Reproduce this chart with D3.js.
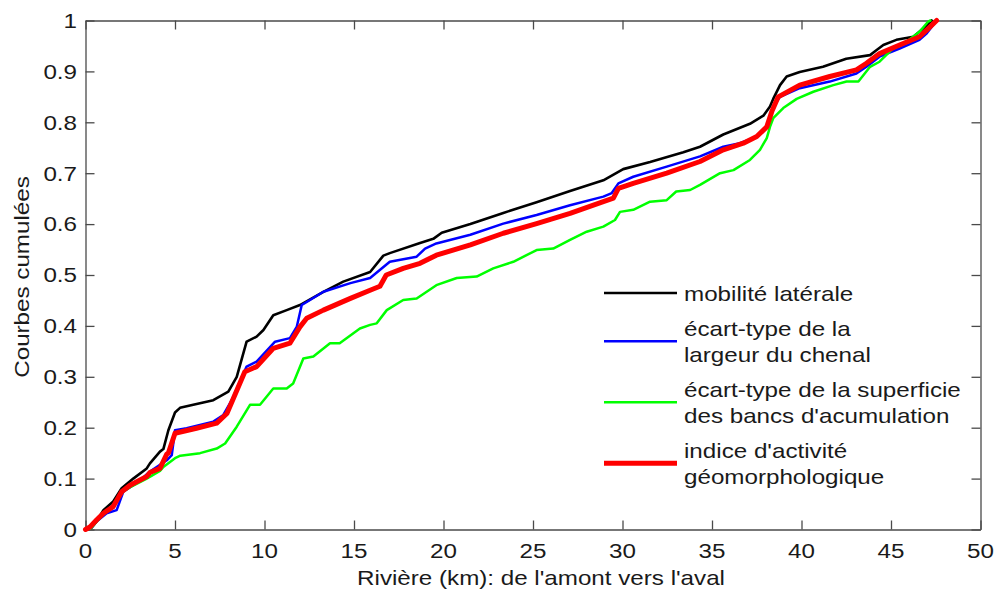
<!DOCTYPE html>
<html>
<head>
<meta charset="utf-8">
<script src="https://cdn.jsdelivr.net/npm/d3@7"></script>
<style>
  html, body { margin: 0; padding: 0; background: #fff; }
  svg { display: block; }
  text { font-family: "Liberation Sans", Arial, Helvetica, sans-serif; fill: #1a1a1a; }
</style>
</head>
<body>
<svg id="chart" width="994" height="590"></svg>
<script>
// Cumulative curves along the river (km from upstream to downstream)
const mobiliteKm  = [0,0.3,0.6,1.0,1.55,2.02,2.67,3.42,3.6,4.16,4.35,4.63,5.0,5.28,6.02,7.14,7.98,8.45,9.0,9.56,9.94,10.49,11.24,11.98,13.29,14.4,15.9,16.64,17.0,18.69,19.43,19.9,21.5,23.34,25.2,27.07,28.93,30.04,31.54,33.4,34.33,35.63,37.12,37.87,38.24,38.42,38.8,39.17,39.9,41.2,42.5,43.83,44.2,44.57,45.3,46.25,47.0,47.27];
const mobiliteVal = [0,0.002,0.015,0.038,0.055,0.081,0.10,0.12,0.13,0.153,0.158,0.195,0.23,0.239,0.245,0.254,0.271,0.30,0.369,0.379,0.392,0.421,0.431,0.441,0.467,0.487,0.506,0.538,0.543,0.563,0.571,0.583,0.600,0.622,0.643,0.665,0.686,0.708,0.722,0.741,0.752,0.776,0.797,0.813,0.831,0.846,0.873,0.89,0.899,0.909,0.925,0.932,0.942,0.952,0.962,0.968,0.99,1.0];

const largeurKm  = [0,0.3,0.6,1.18,1.74,2.11,3.0,3.6,4.54,4.82,5.0,5.65,7.14,7.7,8.17,9.0,9.56,10.59,11.42,11.8,12.08,12.36,13.29,14.8,15.9,17.0,18.5,18.97,19.6,21.5,23.34,25.2,27.07,28.93,29.4,29.77,30.6,32.47,34.33,35.63,36.56,37.5,38.06,38.42,38.8,39.9,41.58,43.07,43.63,44.36,45.48,46.59,47.0,47.55];
const largeurVal = [0,0.002,0.015,0.032,0.038,0.074,0.095,0.114,0.136,0.146,0.195,0.199,0.212,0.225,0.254,0.32,0.33,0.369,0.376,0.398,0.441,0.447,0.467,0.484,0.494,0.526,0.536,0.552,0.562,0.579,0.601,0.618,0.637,0.654,0.661,0.68,0.693,0.713,0.733,0.752,0.759,0.772,0.791,0.831,0.85,0.867,0.88,0.896,0.909,0.929,0.945,0.962,0.975,1.0];

const bancsKm  = [0,0.3,0.6,1.0,1.55,2.11,2.5,3.42,4.16,4.35,5.0,5.3,6.4,7.33,7.8,8.45,9.19,9.75,10.49,11.24,11.6,12.17,12.73,13.66,14.2,15.33,15.9,16.27,16.83,17.75,18.5,19.6,20.74,21.85,22.78,23.9,25.2,26.13,27.07,28.0,28.93,29.58,29.86,30.6,31.54,32.47,33.0,33.78,34.33,35.45,36.2,37.12,37.68,38.06,38.24,38.42,38.98,39.73,40.66,41.78,42.52,43.18,43.83,44.36,45.1,45.85,46.59,47.08,47.2];
const bancsVal = [0,0.002,0.015,0.03,0.045,0.075,0.083,0.10,0.115,0.123,0.14,0.145,0.15,0.159,0.169,0.202,0.245,0.245,0.277,0.277,0.287,0.336,0.34,0.366,0.366,0.395,0.402,0.405,0.431,0.451,0.454,0.48,0.494,0.497,0.513,0.526,0.549,0.552,0.569,0.585,0.595,0.608,0.624,0.628,0.644,0.647,0.664,0.667,0.677,0.70,0.706,0.726,0.746,0.769,0.791,0.808,0.828,0.846,0.86,0.873,0.88,0.88,0.909,0.919,0.945,0.958,0.978,0.998,1.0];

const indiceKm  = [0,0.25,0.63,1.0,1.55,2.02,2.49,3.42,3.6,4.16,4.54,4.63,5.0,6.2,7.33,7.9,8.9,9.56,10.49,11.42,11.98,12.36,13.29,14.8,15.9,16.45,16.8,17.75,18.69,19.6,21.5,23.34,25.2,27.07,28.93,29.49,29.77,30.6,32.47,34.33,35.63,36.75,37.5,38.06,38.34,38.7,39.9,41.58,43.07,43.63,44.36,45.48,46.59,47.08,47.55];
const indiceVal = [0,0.005,0.019,0.032,0.045,0.074,0.087,0.104,0.112,0.12,0.148,0.15,0.189,0.199,0.209,0.228,0.31,0.32,0.356,0.366,0.398,0.415,0.431,0.454,0.47,0.478,0.50,0.513,0.523,0.539,0.559,0.582,0.601,0.621,0.644,0.651,0.67,0.68,0.70,0.723,0.746,0.759,0.772,0.791,0.821,0.85,0.873,0.89,0.903,0.916,0.935,0.952,0.968,0.984,1.0];

const xTicks = [0,5,10,15,20,25,30,35,40,45,50];
const yTicks = [0,0.1,0.2,0.3,0.4,0.5,0.6,0.7,0.8,0.9,1];

const seriesNames  = ["mobilité latérale", "écart-type de la\nlargeur du chenal", "écart-type de la superficie\ndes bancs d'acumulation", "indice d'activité\ngéomorphologique"];
const seriesColors = ["#000000", "#0000ff", "#00ff00", "#ff0000"];
const seriesWidths = [2.6, 2.5, 2.5, 5];

const xTitle = "Rivière (km): de l'amont vers l'aval";
const yTitle = "Courbes cumulées";

// Build series table from the arrays above
const series = [
  { name: seriesNames[0], km: mobiliteKm, val: mobiliteVal },
  { name: seriesNames[1], km: largeurKm,  val: largeurVal },
  { name: seriesNames[2], km: bancsKm,    val: bancsVal },
  { name: seriesNames[3], km: indiceKm,   val: indiceVal }
].map((s, i) => ({ ...s, color: seriesColors[i], width: seriesWidths[i],
                   points: s.km.map((k, j) => [k, s.val[j]]) }));

const svg = d3.select("#chart");
const FS = 20.5;        // font size
const SX = 1.18;        // horizontal glyph stretch
const plotL = 85.5, plotR = 980.5, plotT = 20.5, plotB = 529.5;

const x = d3.scaleLinear().domain([0, 50]).range([plotL, plotR]);
const y = d3.scaleLinear().domain([0, 1]).range([plotB, plotT]);

// Axes: ticks point inward on all four sides
const axisStyle = g => {
  g.selectAll("path.domain").attr("stroke", "#4a4a4a").attr("stroke-width", 1.3);
  g.selectAll(".tick line").attr("stroke", "#4a4a4a").attr("stroke-width", 1.3);
  g.selectAll(".tick text").remove();
};
svg.append("g").attr("transform", `translate(0,${plotB})`)
  .call(d3.axisBottom(x).tickValues(xTicks).tickSizeInner(-9).tickSizeOuter(0)).call(axisStyle);
svg.append("g").attr("transform", `translate(0,${plotT})`)
  .call(d3.axisTop(x).tickValues(xTicks).tickSizeInner(-9).tickSizeOuter(0)).call(axisStyle);
svg.append("g").attr("transform", `translate(${plotL},0)`)
  .call(d3.axisLeft(y).tickValues(yTicks).tickSizeInner(-9).tickSizeOuter(0)).call(axisStyle);
svg.append("g").attr("transform", `translate(${plotR},0)`)
  .call(d3.axisRight(y).tickValues(yTicks).tickSizeInner(-9).tickSizeOuter(0)).call(axisStyle);

// Tick labels
const fmtY = d => (d === 0 ? "0" : d === 1 ? "1" : d.toFixed(1));
svg.append("g").selectAll("text").data(xTicks).join("text")
  .attr("transform", d => `translate(${x(d)},${plotB + 28.5}) scale(${SX},1)`)
  .attr("text-anchor", "middle").attr("font-size", FS).text(d => d);
svg.append("g").selectAll("text").data(yTicks).join("text")
  .attr("transform", d => `translate(${plotL - 8.5},${y(d) + 7.3}) scale(${SX},1)`)
  .attr("text-anchor", "end").attr("font-size", FS).text(fmtY);

// Axis titles
svg.append("text")
  .attr("transform", `translate(541,585) scale(${SX},1)`)
  .attr("text-anchor", "middle").attr("font-size", FS).text(xTitle);
svg.append("text")
  .attr("transform", `translate(28.5,277) rotate(-90) scale(${SX},1)`)
  .attr("text-anchor", "middle").attr("font-size", FS).text(yTitle);

// Curves
const line = d3.line().x(d => x(d[0])).y(d => y(d[1]));
svg.append("g").selectAll("path").data(series).join("path")
  .attr("d", d => line(d.points))
  .attr("fill", "none")
  .attr("stroke", d => d.color)
  .attr("stroke-width", d => d.width)
  .attr("stroke-linejoin", "round")
  .attr("stroke-linecap", "round");

// Legend
const lgX0 = 604, lgX1 = 677, lgTextX = 684, rowH = 25.5, gap = 10;
let ly = 293;
const legend = svg.append("g");
series.forEach((s, i) => {
  const lines = s.name.split("\n");
  if (i > 0) {
    const prevN = series[i - 1].name.split("\n").length;
    ly += (prevN * rowH + lines.length * rowH) / 2 + gap;
  }
  legend.append("line")
    .attr("x1", lgX0).attr("x2", lgX1).attr("y1", ly).attr("y2", ly)
    .attr("stroke", s.color).attr("stroke-width", s.width);
  lines.forEach((t, j) => {
    const by = ly + 7.5 + (j - (lines.length - 1) / 2) * rowH;
    legend.append("text")
      .attr("transform", `translate(${lgTextX},${by}) scale(${SX},1)`)
      .attr("font-size", FS).text(t);
  });
});
</script>
</body>
</html>
